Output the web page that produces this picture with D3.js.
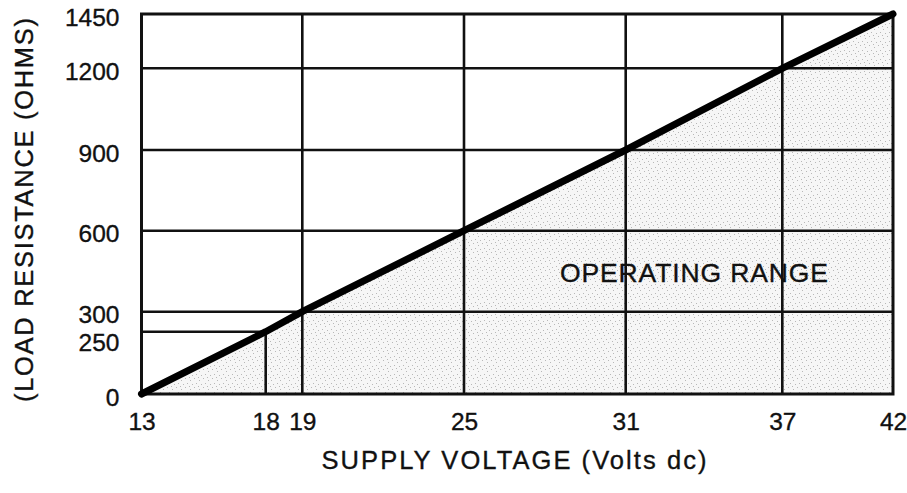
<!DOCTYPE html>
<html>
<head>
<meta charset="utf-8">
<script src="https://cdn.jsdelivr.net/npm/d3@7"></script>
<style>
  body { margin: 0; background: #fff; }
  svg { display: block; }
  text { font-family: "Liberation Sans", Arial, sans-serif; fill: #111; stroke: #111; stroke-width: 0.35px; }
</style>
</head>
<body>
<svg id="chart" width="907" height="493"></svg>
<script>
// data
const voltageTicks = [13, 18, 19, 25, 31, 37, 42];
const resistanceTicks = [0, 250, 300, 600, 900, 1200, 1450];
// load line: R = 50 * (V - 13)
const lineVolts = [13, 18, 19, 25, 31, 37, 42];
const lineOhms = [0, 250, 300, 600, 900, 1200, 1450];
const fullGridV = [19, 25, 31, 37];
const fullGridR = [300, 600, 900, 1200];

// the axes are not evenly spaced in the original, so the scales are piecewise
const xRange = [141.5, 265.7, 302.3, 464, 625.7, 782.3, 893];
const yRange = [394, 331.7, 311.7, 230.7, 150, 68.3, 14];

const svg = d3.select("#chart");
const x = d3.scaleLinear().domain(voltageTicks).range(xRange);
const y = d3.scaleLinear().domain(resistanceTicks).range(yRange);

const pts = lineVolts.map((v, i) => [x(v), y(lineOhms[i])]);

// stipple pattern for the operating range
const defs = svg.append("defs");
const pat = defs.append("pattern")
    .attr("id", "stipple")
    .attr("patternUnits", "userSpaceOnUse")
    .attr("width", 9).attr("height", 9);
pat.append("rect").attr("width", 9).attr("height", 9).attr("fill", "#f6f6f6");
[[1, 2], [5, 0], [7, 5], [3, 6], [0, 8]].forEach(d => {
    pat.append("rect").attr("x", d[0]).attr("y", d[1])
        .attr("width", 1).attr("height", 1).attr("fill", "#b8b8b8");
});

const area = d3.area()
    .x(d => d[0])
    .y0(y(0))
    .y1(d => d[1]);
svg.append("path")
    .datum(pts)
    .attr("d", area)
    .attr("fill", "url(#stipple)");

// grid
const grid = svg.append("g").attr("stroke", "#111").attr("stroke-width", 2.6);
grid.selectAll(".gv").data(fullGridV).join("line")
    .attr("x1", d => x(d)).attr("x2", d => x(d))
    .attr("y1", y(1450)).attr("y2", y(0));
grid.selectAll(".gh").data(fullGridR).join("line")
    .attr("x1", x(13)).attr("x2", x(42))
    .attr("y1", d => y(d)).attr("y2", d => y(d));
grid.append("line")
    .attr("x1", x(18)).attr("x2", x(18))
    .attr("y1", y(250)).attr("y2", y(0));
grid.append("line")
    .attr("x1", x(13)).attr("x2", x(18))
    .attr("y1", y(250)).attr("y2", y(250));
grid.append("rect")
    .attr("x", x(13)).attr("y", y(1450))
    .attr("width", x(42) - x(13)).attr("height", y(0) - y(1450))
    .attr("fill", "none").attr("stroke-width", 3);

// load line
svg.append("path")
    .datum(pts)
    .attr("d", d3.line())
    .attr("fill", "none")
    .attr("stroke", "#000")
    .attr("stroke-width", 7)
    .attr("stroke-linecap", "round");

// axes (labels only)
const xAxis = svg.append("g")
    .attr("transform", `translate(0,${y(0)})`)
    .call(d3.axisBottom(x).tickValues(voltageTicks).tickFormat(d3.format("d"))
        .tickSize(0).tickPadding(19));
const yAxis = svg.append("g")
    .attr("transform", `translate(${x(13)},0)`)
    .call(d3.axisLeft(y).tickValues(resistanceTicks).tickFormat(d3.format("d"))
        .tickSize(0).tickPadding(22));
[xAxis, yAxis].forEach(a => {
    a.attr("font-family", '"Liberation Sans", Arial, sans-serif')
        .attr("font-size", 24.5);
    a.select(".domain").remove();
    a.selectAll("text").attr("fill", "#111");
});
// 250 sits just under 300 in the original, pushed down a little
yAxis.selectAll("text")
    .attr("dy", d => d === 250 ? "0.78em" : "0.45em");

svg.append("text")
    .attr("x", 514).attr("y", 469)
    .attr("text-anchor", "middle")
    .attr("font-size", 25.5)
    .attr("textLength", 385)
    .text("SUPPLY VOLTAGE (Volts dc)");

svg.append("text")
    .attr("transform", "translate(33,210) rotate(-90)")
    .attr("text-anchor", "middle")
    .attr("font-size", 25.5)
    .attr("textLength", 384)
    .text("(LOAD RESISTANCE (OHMS)");

svg.append("text")
    .attr("x", 694).attr("y", 282)
    .attr("text-anchor", "middle")
    .attr("font-size", 26.5)
    .attr("textLength", 268)
    .text("OPERATING RANGE");
</script>
</body>
</html>
